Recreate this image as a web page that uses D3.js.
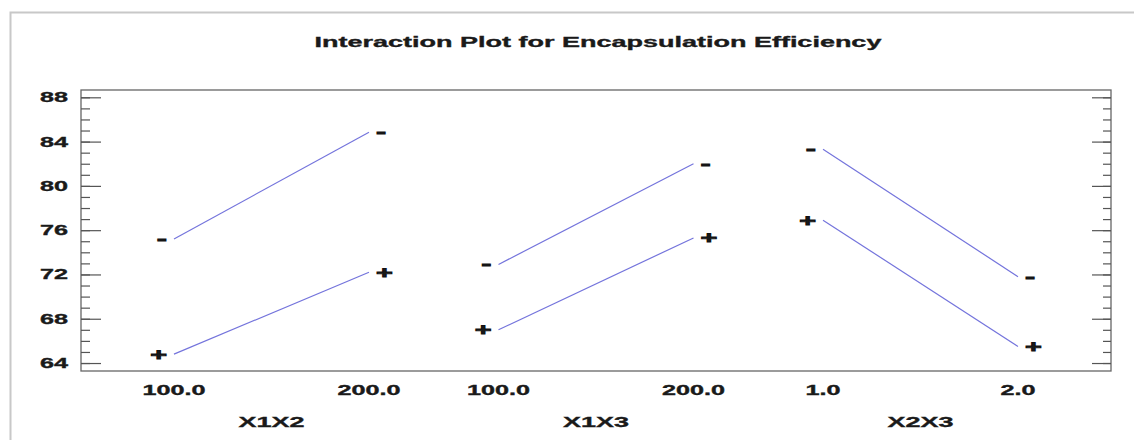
<html>
<head>
	<title>Interaction Plot for Encapsulation Efficiency</title>
	<script src="https://d3js.org/d3.v7.min.js"></script>
	<style type="text/css">
		body { margin: 0; background: #fff; }
		text { font-family: "Liberation Sans", Arial, sans-serif; font-weight: bold; fill: #1a1a1a; stroke: #1a1a1a; stroke-width: 0.35px; }
	</style>
</head>
<body>
<div id="chart"></div>

<script type="text/javascript">
// factors, level labels and the mean response at each level
var factors = ["X1X2", "X1X3", "X2X3"];
var levelLabels = [["100.0", "200.0"], ["100.0", "200.0"], ["1.0", "2.0"]];
var minusValues = [[75.2, 84.85], [72.9, 82.0], [83.3, 71.8]];
var plusValues = [[64.8, 72.2], [67.0, 75.3], [76.9, 65.5]];
var yTicks = [64, 68, 72, 76, 80, 84, 88];
var yMinor = d3.range(64, 89, 1);

var W = 1134, H = 440;
var plotLeft = 81, plotRight = 1111, plotTop = 90, plotBottom = 371;
var sx = 1.8; // the picture is stretched sideways

var svg = d3.select("#chart")
	.append("svg")
	.attr("width", W)
	.attr("height", H);

// outer panel border
svg.append("rect")
	.attr("x", 10.5).attr("y", 12.5)
	.attr("width", 1160).attr("height", 460)
	.attr("fill", "none")
	.attr("stroke", "#c8c8c8")
	.attr("stroke-width", 2);

var y = d3.scaleLinear()
	.domain([63.28, 88.66])
	.range([plotBottom, plotTop]);

var xGroup = d3.scalePoint()
	.domain(factors)
	.range([plotLeft, plotRight])
	.padding(0.587);

var xLevel = d3.scaleLinear()
	.domain([0, 1])
	.range([-97.5, 97.5]);

function stretched(g, x, yy, str, size, anchor) {
	return g.append("text")
		.attr("transform", "translate(" + x + "," + yy + ") scale(" + sx + ",1)")
		.attr("text-anchor", anchor || "middle")
		.style("font-size", size + "px")
		.text(str);
}

// title
stretched(svg, 598, 47, "Interaction Plot for Encapsulation Efficiency", 15);

// frame
svg.append("rect")
	.attr("x", plotLeft).attr("y", plotTop)
	.attr("width", plotRight - plotLeft).attr("height", plotBottom - plotTop)
	.attr("fill", "none")
	.attr("stroke", "#666")
	.attr("stroke-width", 1.3);

// y axes on both sides, ticks pointing inward
var axisL = d3.axisRight(y).tickValues(yTicks).tickSize(20).tickFormat("");
var axisLm = d3.axisRight(y).tickValues(yMinor).tickSize(9).tickFormat("");
var axisR = d3.axisLeft(y).tickValues(yTicks).tickSize(19).tickFormat("");
var axisRm = d3.axisLeft(y).tickValues(yMinor).tickSize(8).tickFormat("");

[[axisLm, plotLeft], [axisL, plotLeft], [axisRm, plotRight], [axisR, plotRight]].forEach(function(a) {
	var g = svg.append("g")
		.attr("transform", "translate(" + a[1] + ",0)")
		.call(a[0]);
	g.select(".domain").remove();
	g.selectAll("line").attr("stroke", "#555").attr("stroke-width", 1.2);
});

// y tick labels
yTicks.forEach(function(t) {
	stretched(svg, 68, y(t) + 5, String(t), 14, "end");
});

// interaction lines and level markers
factors.forEach(function(f, i) {
	var cx = xGroup(f);
	var x0 = cx + xLevel(0), x1 = cx + xLevel(1);

	[minusValues[i], plusValues[i]].forEach(function(vals, k) {
		svg.append("line")
			.attr("x1", x0).attr("y1", y(vals[0]))
			.attr("x2", x1).attr("y2", y(vals[1]))
			.attr("stroke", "#7474dc")
			.attr("stroke-width", 1.2);

		var sym = k == 0 ? "-" : "+";
		var size = k == 0 ? 17 : 16;
		var dy = k == 0 ? 5 : 5.5;
		stretched(svg, x0 - 7, y(vals[0]) + dy, sym, size, "end").style("stroke", "#111").style("stroke-width", 0.8);
		stretched(svg, x1 + 7, y(vals[1]) + dy, sym, size, "start").style("stroke", "#111").style("stroke-width", 0.8);
	});

	// level labels and factor name
	stretched(svg, x0, 395, levelLabels[i][0], 14);
	stretched(svg, x1, 395, levelLabels[i][1], 14);
	stretched(svg, cx, 427, f, 15);
});
</script>
</body>
</html>
